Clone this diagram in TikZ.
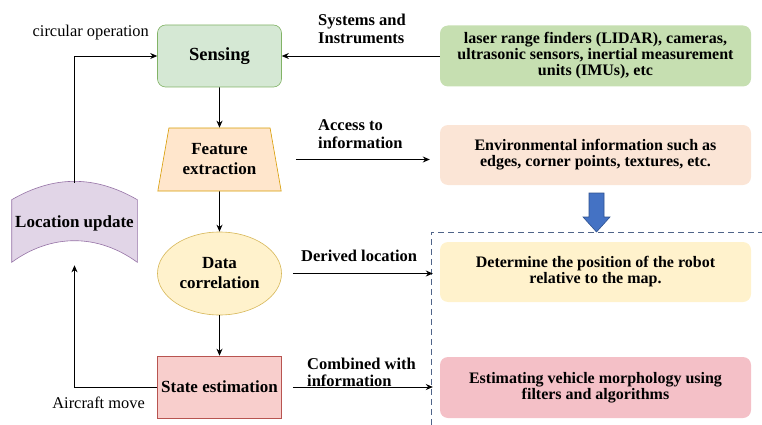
\documentclass[tikz,border=0pt]{standalone}
\usepackage{fontspec}
\setmainfont{Liberation Serif}
\usetikzlibrary{positioning,arrows.meta,shapes.geometric,backgrounds}
\definecolor{sensefill}{HTML}{D5E8D4}
\definecolor{senseline}{HTML}{82B366}
\definecolor{featfill}{HTML}{FFE6CC}
\definecolor{featline}{HTML}{D79B00}
\definecolor{corrfill}{HTML}{FFF2CC}
\definecolor{corrline}{HTML}{D6B656}
\definecolor{statefill}{HTML}{F8CECC}
\definecolor{stateline}{HTML}{B85450}
\definecolor{lufill}{HTML}{E1D5E7}
\definecolor{luline}{HTML}{9673A6}
\definecolor{instfill}{HTML}{C6DFB1}
\definecolor{envfill}{HTML}{FBE5D6}
\definecolor{posfill}{HTML}{FFF2CC}
\definecolor{morphfill}{HTML}{F4C0C7}
\definecolor{arrowblue}{HTML}{4472C4}
\definecolor{arrowline}{HTML}{2F528F}

\begin{document}
\begin{tikzpicture}[x=1pt, y=-1pt, font=\bfseries\fontsize{16.5}{18}\selectfont,
    >={Stealth[length=7pt,width=6pt]},
    flow/.style={minimum width=124pt, minimum height=62pt, inner sep=1pt, align=center,
                 line width=0.6pt, font=\bfseries\fontsize{17}{20}\selectfont},
    info/.style={rounded corners=8pt, minimum width=311pt, minimum height=61pt,
                 inner sep=1pt, align=center, font=\bfseries\fontsize{16}{16}\selectfont},
    lab/.style={align=left, anchor=west, inner sep=0pt},
    plain/.style={font=\fontsize{16.4}{18}\selectfont, anchor=east, inner sep=0pt},
    link/.style={->, line width=0.8pt}]
    \useasboundingbox (0,0) rectangle (762,425);

    % ---- left column
    \node[flow, draw=senseline, fill=sensefill, rounded corners=8pt, font=\bfseries\fontsize{18.5}{20}\selectfont] (sense) at (219.5,56) {Sensing};
    \node[flow, draw=featline, fill=featfill, trapezium, trapezium stretches=true,
          trapezium left angle=76, trapezium right angle=76, minimum height=63pt] (feat) at (219.5,159.5) {Feature\\extraction};
    \node[flow, draw=corrline, fill=corrfill, ellipse, minimum height=83pt] (corr) at (219.5,273.5) {Data\\correlation};
    \node[flow, draw=stateline, fill=statefill] (state) at (219.5,387) {State estimation};
    \node[flow, minimum width=125pt] (locup) at (74.5,223) {Location update};
    \begin{scope}[on background layer]
      \draw[draw=luline, fill=lufill, line width=0.6pt] ([yshift=-8pt]locup.south west) -- ([yshift=-8pt]locup.north west)
        to[bend left=30] ([yshift=-8pt]locup.north east) -- ([yshift=-8pt]locup.south east)
        to[bend right=36] cycle;
    \end{scope}

    % ---- right column
    \node[info, fill=instfill] (inst) at (595.5,56) {laser range finders (LIDAR), cameras,\\ultrasonic sensors, inertial measurement\\units (IMUs), etc};
    \node[info, fill=envfill, minimum height=60pt] (envbox) at (595.5,155) {Environmental information such as\\edges, corner points, textures, etc.};
    \node[info, fill=posfill, minimum height=60pt] (posbox) at (595.5,272) {Determine the position of the robot\\relative to the map.};
    \node[info, fill=morphfill] (morph) at (595.5,387.5) {Estimating vehicle morphology using\\filters and algorithms};

    % region and block arrow
    \draw[arrowline!60!gray, line width=0.8pt, dash pattern=on 6pt off 4pt] (431,425) -- (431,232) -- (762,232);
    \draw[draw=arrowline, fill=arrowblue, line width=0.6pt]
      (589,193) -- (604,193) -- (604,217) -- (610,217) -- (596.5,232) -- (583,217) -- (589,217) -- cycle;

    % ---- labels
    \node[lab] (sysl) at (318,29) {Systems and\\Instruments};
    \node[lab] (accl) at (318,134) {Access to\\information};
    \node[lab] (derl) at (301,256) {Derived location};
    \node[lab, font=\bfseries\fontsize{16.5}{17}\selectfont] (coml) at (307,372) {Combined with\\information};
    \node[plain] (circl) at (149,33) {circular operation};
    \node[plain] (airl) at (145,403) {Aircraft move};

    % ---- connectors
    \draw[link] (sense) -- (feat);
    \draw[link] (feat) -- (corr);
    \draw[link] (corr) -- (state);
    \draw[link] (inst) -- (sense);
    \draw[link, shorten <=20pt, shorten >=10pt] (feat.east) -- (feat.east -| envbox.west);
    \draw[link, shorten <=11pt, shorten >=7pt] (corr.east) -- (corr.east -| posbox.west);
    \draw[link, shorten <=11pt, shorten >=7pt] (state.east) -- (state.east -| morph.west);
    \draw[link] ([yshift=9pt]locup.north) |- (sense.west);
    \draw[link] (state.west) -| ([yshift=-11pt]locup.south);
  \end{tikzpicture}
\end{document}
